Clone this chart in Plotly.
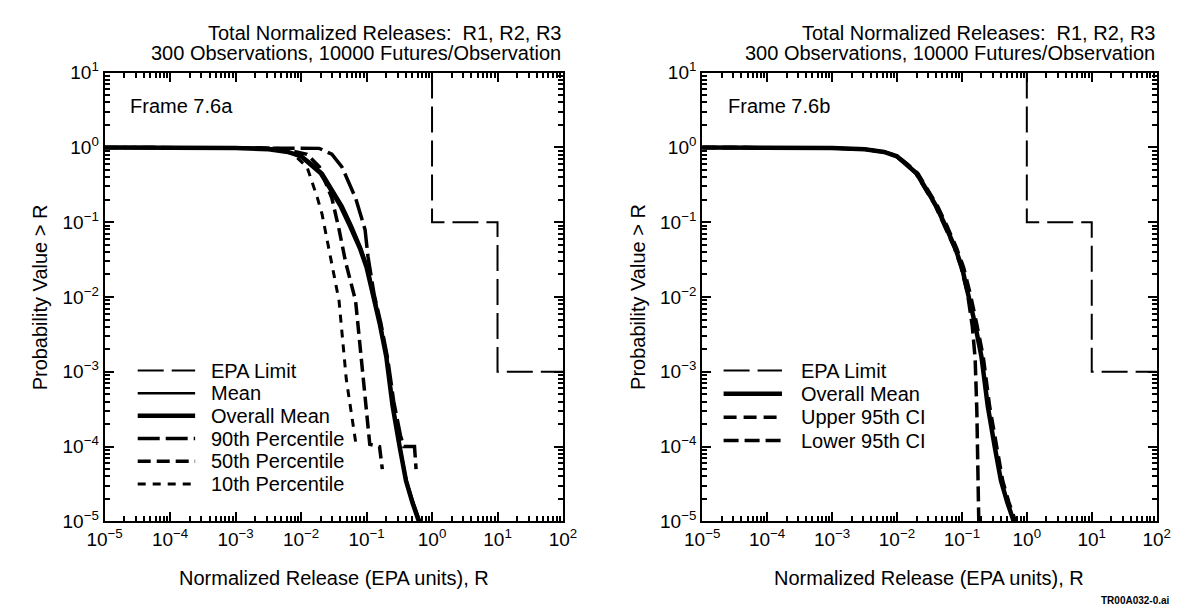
import plotly.graph_objects as go

W, H = 1195, 616
FONT = "Liberation Sans, Arial, Helvetica, sans-serif"

# ---------------- data ----------------
epa_x = [1.0, 1.0, 10.0, 10.0, 100.0]
epa_y = [10.0, 0.1, 0.1, 0.001, 0.001]

overall_mean_x = [1e-5, 3.2e-4, 1e-3, 3.2e-3, 6.3e-3, 0.01, 0.014, 0.02, 0.028, 0.04,
                  0.056, 0.079, 0.1, 0.126, 0.158, 0.2, 0.25, 0.32, 0.4, 0.5, 0.63]
overall_mean_y = [1.0, 0.993, 0.98, 0.944, 0.87, 0.76, 0.6, 0.45, 0.28, 0.166,
                  0.089, 0.045, 0.025, 0.0112, 0.0045, 0.0016, 3.5e-4, 1e-4, 3.5e-5, 1.8e-5, 1e-5]

mean_x = [1e-5, 3.2e-4, 1e-3, 3.2e-3, 6.5e-3, 0.0105, 0.015, 0.0215, 0.03, 0.043,
          0.06, 0.083, 0.104, 0.13, 0.162, 0.205, 0.255, 0.325, 0.41, 0.52, 0.66]
mean_y = overall_mean_y

p90_x = [1e-5, 1e-3, 0.01, 0.019, 0.0295, 0.042, 0.068, 0.095, 0.105, 0.13, 0.165,
         0.21, 0.26, 0.33, 0.37, 0.54, 0.57]
p90_y = [1.0, 0.997, 0.99, 0.97, 0.81, 0.55, 0.21, 0.079, 0.035, 0.011, 0.0045,
         0.0015, 4e-4, 1.4e-4, 1e-4, 1e-4, 5e-5]

p50_x = [1e-5, 1e-3, 3.2e-3, 0.005, 0.0123, 0.019, 0.0295, 0.038, 0.048, 0.068,
         0.089, 0.112, 0.158, 0.174]
p50_y = [1.0, 0.995, 0.98, 0.96, 0.81, 0.55, 0.21, 0.08, 0.029, 0.0089,
         8e-4, 1.07e-4, 1e-4, 5e-5]

p10_x = [1e-5, 1e-3, 2.5e-3, 0.0045, 0.0076, 0.0123, 0.0178, 0.021, 0.0295, 0.038,
         0.049, 0.069]
p10_y = [1.0, 0.995, 0.985, 0.95, 0.81, 0.55, 0.21, 0.126, 0.029, 0.0089,
         8e-4, 1.07e-4]

upper_ci_x = [1e-5, 3.2e-4, 1e-3, 3.2e-3, 6.4e-3, 0.0102, 0.0145, 0.021, 0.0295, 0.042,
              0.059, 0.083, 0.106, 0.134, 0.168, 0.213, 0.267, 0.34, 0.425, 0.53, 0.67]
upper_ci_y = overall_mean_y

lower_ci_x = [1e-5, 1e-3, 3.2e-3, 6.2e-3, 0.0098, 0.0137, 0.0195, 0.0272, 0.039, 0.054,
              0.077, 0.097, 0.122, 0.145, 0.16, 0.17, 0.177, 0.182]
lower_ci_y = [1.0, 0.98, 0.944, 0.87, 0.76, 0.6, 0.45, 0.28, 0.166, 0.089,
              0.045, 0.025, 0.0112, 0.004, 0.0015, 3e-4, 5e-5, 1e-5]

x_exponents = [-5, -4, -3, -2, -1, 0, 1, 2]
y_exponents = [-5, -4, -3, -2, -1, 0, 1]

title_lines = ["Total Normalized Releases:  R1, R2, R3",
               "300 Observations, 10000 Futures/Observation"]
x_title = "Normalized Release (EPA units), R"
y_title = "Probability Value > R"

# ---------------- styles ----------------
S = {
    "EPA Limit": dict(color="black", width=2, dash="26px,8px"),
    "Mean": dict(color="black", width=2.5, dash="solid"),
    "Overall Mean": dict(color="black", width=4.5, dash="solid"),
    "90th Percentile": dict(color="black", width=3.5, dash="22px,6px"),
    "50th Percentile": dict(color="black", width=3.5, dash="13px,6px"),
    "10th Percentile": dict(color="black", width=3, dash="8px,7px"),
    "Upper 95th CI": dict(color="black", width=3.5, dash="13px,7px"),
    "Lower 95th CI": dict(color="black", width=3.5, dash="15px,6px"),
}

left_series = [("EPA Limit", epa_x, epa_y), ("Mean", mean_x, mean_y),
               ("Overall Mean", overall_mean_x, overall_mean_y),
               ("90th Percentile", p90_x, p90_y), ("50th Percentile", p50_x, p50_y),
               ("10th Percentile", p10_x, p10_y)]
right_series = [("EPA Limit", epa_x, epa_y),
                ("Overall Mean", overall_mean_x, overall_mean_y),
                ("Upper 95th CI", upper_ci_x, upper_ci_y),
                ("Lower 95th CI", lower_ci_x, lower_ci_y)]

fig = go.Figure()
for name, xs, ys in left_series:
    fig.add_trace(go.Scatter(x=xs, y=ys, mode="lines", name=name, line=S[name],
                             xaxis="x", yaxis="y", showlegend=False))
for name, xs, ys in right_series:
    fig.add_trace(go.Scatter(x=xs, y=ys, mode="lines", name=name, line=S[name],
                             xaxis="x2", yaxis="y2", showlegend=False))

# empty carrier traces so the minor-tick overlay axes get drawn
for xa, ya in [("x3", "y"), ("x", "y3"), ("x4", "y2"), ("x2", "y4")]:
    fig.add_trace(go.Scatter(x=[], y=[], mode="lines", xaxis=xa, yaxis=ya,
                             showlegend=False, hoverinfo="skip"))

def px(x):
    return x / W

def py(y):
    return 1 - y / H

def pow_label(e):
    s = str(e).replace("-", "\u2212")
    return "10<sup>" + s + "</sup>"

def minor_vals(exps):
    vals = []
    for e in exps[:-1]:
        for m in range(2, 10):
            vals.append(m * 10.0 ** e)
    return vals

# panel frames in pixels
L = (89, 560)
R = (703, 1170)
TOP, BOT = 62, 529

def axis(exps):
    return dict(
        type="log", showline=True, linecolor="black", linewidth=2, mirror="ticks",
        ticks="inside", ticklen=9, tickwidth=2, tickcolor="black",
        showgrid=False, zeroline=False,
        tickmode="array", tickvals=[10.0 ** e for e in exps],
        ticktext=[pow_label(e) for e in exps],
        tickfont=dict(family=FONT, size=19, color="black"),
        range=[exps[0], exps[-1]],
    )

def minor_axis(exps, over, anchor, dom):
    return dict(
        type="log", overlaying=over, anchor=anchor, domain=dom,
        showline=True, linecolor="black", linewidth=2, mirror="ticks",
        ticks="inside", ticklen=5, tickwidth=1.5, tickcolor="black",
        showgrid=False, zeroline=False, showticklabels=False,
        tickmode="array", tickvals=minor_vals(exps),
        range=[exps[0], exps[-1]],
    )

xdomL = [px(L[0]), px(L[1])]
xdomR = [px(R[0]), px(R[1])]
ydom = [py(BOT), py(TOP)]

fig.update_layout(
    width=W, height=H, margin=dict(l=0, r=0, t=0, b=0),
    paper_bgcolor="white", plot_bgcolor="white", showlegend=False,
    font=dict(family=FONT, size=20, color="black"),
    xaxis=dict(axis(x_exponents), domain=xdomL, anchor="y"),
    yaxis=dict(axis(y_exponents), domain=ydom, anchor="x"),
    xaxis2=dict(axis(x_exponents), domain=xdomR, anchor="y2"),
    yaxis2=dict(axis(y_exponents), domain=ydom, anchor="x2"),
    xaxis3=minor_axis(x_exponents, "x", "y", xdomL),
    yaxis3=minor_axis(y_exponents, "y", "x", ydom),
    xaxis4=minor_axis(x_exponents, "x2", "y2", xdomR),
    yaxis4=minor_axis(y_exponents, "y2", "x2", ydom),
)

ann = []
shapes = []
for (x0, x1), frame in [(L, "Frame 7.6a"), (R, "Frame 7.6b")]:
    ann.append(dict(text=title_lines[0], x=px(x1), y=py(21), xanchor="right", yanchor="middle"))
    ann.append(dict(text=title_lines[1], x=px(x1), y=py(42), xanchor="right", yanchor="middle"))
    ann.append(dict(text=frame, x=px(x0 + 24), y=py(97), xanchor="left", yanchor="middle"))
    ann.append(dict(text=x_title, x=px((x0 + x1) / 2), y=py(588), xanchor="center", yanchor="middle"))
    ann.append(dict(text=y_title, x=px(x0 - 66), y=py((TOP + BOT) / 2), xanchor="center",
                    yanchor="middle", textangle=-90))

# legends (keys drawn as paper-space samples next to the labels)
def legend(names, x_line0, x_line1, x_text, y0, step):
    for i, n in enumerate(names):
        yy = y0 + i * step
        shapes.append(dict(type="line", xref="paper", yref="paper",
                           x0=px(x_line0), x1=px(x_line1), y0=py(yy), y1=py(yy),
                           line=S[n]))
        ann.append(dict(text=n, x=px(x_text), y=py(yy), xanchor="left", yanchor="middle"))

legend([s[0] for s in left_series], 123, 182, 196, 372, 23.6)
legend([s[0] for s in right_series], 725, 785, 802, 372, 24.3)

ann.append(dict(text="<b>TR00A032-0.ai</b>", x=px(1186), y=py(611), xanchor="right",
                yanchor="middle", font=dict(size=10)))

for a in ann:
    a.setdefault("xref", "paper")
    a.setdefault("yref", "paper")
    a.setdefault("showarrow", False)
    a.setdefault("font", dict(size=20))
fig.update_layout(annotations=ann, shapes=shapes)

fig.write_html("out.html")
